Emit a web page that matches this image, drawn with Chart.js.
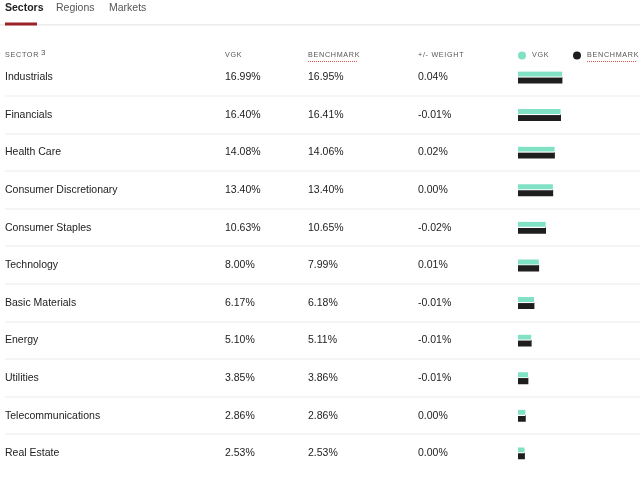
<!DOCTYPE html>
<html>
<head>
<meta charset="utf-8">
<script src="https://cdn.jsdelivr.net/npm/chart.js@4"></script>
<style>
  html, body { margin: 0; padding: 0; background: #fff; }
  #wrap { position: relative; width: 640px; height: 477px; }
</style>
</head>
<body>
<div id="wrap"><canvas id="sectorChart" width="640" height="477"></canvas></div>
<script>
const tabs = ['Sectors', 'Regions', 'Markets'];
const sectors = ['Industrials', 'Financials', 'Health Care', 'Consumer Discretionary', 'Consumer Staples',
    'Technology', 'Basic Materials', 'Energy', 'Utilities', 'Telecommunications', 'Real Estate'];
const vgkWeights = [16.99, 16.40, 14.08, 13.40, 10.63, 8.00, 6.17, 5.10, 3.85, 2.86, 2.53];
const benchWeights = [16.95, 16.41, 14.06, 13.40, 10.65, 7.99, 6.18, 5.11, 3.86, 2.86, 2.53];
const diffWeights = ['0.04%', '-0.01%', '0.02%', '0.00%', '-0.02%', '0.01%', '-0.01%', '-0.01%', '-0.01%', '0.00%', '0.00%'];

const TEAL = '#80e1c5';
const DARK = '#1e1e1e';
const FONT = '"Liberation Sans", Arial, Helvetica, sans-serif';

// text columns + tabs drawn around the bar area, aligned to the y scale
const tablePlugin = {
    id: 'tableText',
    beforeDatasetsDraw(chart) {
        const ctx = chart.ctx;
        const y = chart.scales.y;
        ctx.save();

        // tabs
        ctx.textBaseline = 'middle';
        ctx.font = 'bold 10.5px ' + FONT;
        ctx.fillStyle = '#222';
        ctx.fillText(tabs[0], 5, 8);
        ctx.font = '10.5px ' + FONT;
        ctx.fillStyle = '#555';
        ctx.fillText(tabs[1], 56, 8);
        ctx.fillText(tabs[2], 109, 8);
        ctx.fillStyle = '#ececec';
        ctx.fillRect(0, 24, 640, 1.5);
        ctx.fillStyle = '#9b2226';
        ctx.fillRect(5, 22.5, 32, 3);

        // header
        const hy = 55.5;
        ctx.font = '7.2px ' + FONT;
        ctx.fillStyle = '#555';
        ctx.letterSpacing = '0.7px';
        ctx.fillText('SECTOR', 5, hy);
        const sw = ctx.measureText('SECTOR').width;
        ctx.fillText('VGK', 225, hy);
        ctx.fillText('BENCHMARK', 308, hy);
        ctx.fillText('+/- WEIGHT', 418, hy);
        ctx.fillText('VGK', 532, hy);
        ctx.fillText('BENCHMARK', 587, hy);
        ctx.letterSpacing = '0px';
        ctx.font = '8px ' + FONT;
        ctx.fillText('3', 5 + sw + 2, hy - 3);

        // dotted underline for BENCHMARK
        ctx.strokeStyle = '#e0524f';
        ctx.lineWidth = 1;
        ctx.setLineDash([1, 1]);
        ctx.beginPath();
        ctx.moveTo(308, 61.5); ctx.lineTo(357, 61.5);
        ctx.moveTo(587, 61.5); ctx.lineTo(636, 61.5);
        ctx.stroke();
        ctx.setLineDash([]);

        // legend dots
        ctx.fillStyle = TEAL;
        ctx.beginPath(); ctx.arc(522, hy, 4, 0, Math.PI * 2); ctx.fill();
        ctx.fillStyle = DARK;
        ctx.beginPath(); ctx.arc(577, hy, 4, 0, Math.PI * 2); ctx.fill();

        // rows
        ctx.font = '10.5px ' + FONT;
        sectors.forEach((s, i) => {
            const cy = y.getPixelForValue(i);
            ctx.fillStyle = '#222';
            ctx.fillText(s, 5, cy);
            ctx.fillText(vgkWeights[i].toFixed(2) + '%', 225, cy);
            ctx.fillText(benchWeights[i].toFixed(2) + '%', 308, cy);
            ctx.fillText(diffWeights[i], 418, cy);
            if (i < sectors.length - 1) {
                const next = y.getPixelForValue(i + 1);
                ctx.fillStyle = '#ececec';
                ctx.fillRect(5, Math.round((cy + next) / 2) - 0.5, 635, 1);
            }
        });
        ctx.restore();
    }
};

new Chart(document.getElementById('sectorChart').getContext('2d'), {
    type: 'bar',
    data: {
        labels: sectors,
        datasets: [{
            label: 'VGK',
            data: vgkWeights,
            backgroundColor: TEAL,
            borderColor: '#fff',
            borderWidth: { top: 0, left: 0, right: 0, bottom: 1.2 },
            borderSkipped: false,
            barThickness: 5.8
        }, {
            label: 'BENCHMARK',
            data: benchWeights,
            backgroundColor: DARK,
            borderWidth: 0,
            barThickness: 5.8
        }]
    },
    options: {
        indexAxis: 'y',
        responsive: false,
        animation: false,
        layout: { padding: { left: 518, right: 44, top: 58.5, bottom: 5 } },
        scales: {
            x: { display: false, min: 0, max: 30 },
            y: { display: false }
        },
        plugins: {
            legend: { display: false },
            tooltip: { enabled: false }
        }
    },
    plugins: [tablePlugin]
});
</script>
</body>
</html>
